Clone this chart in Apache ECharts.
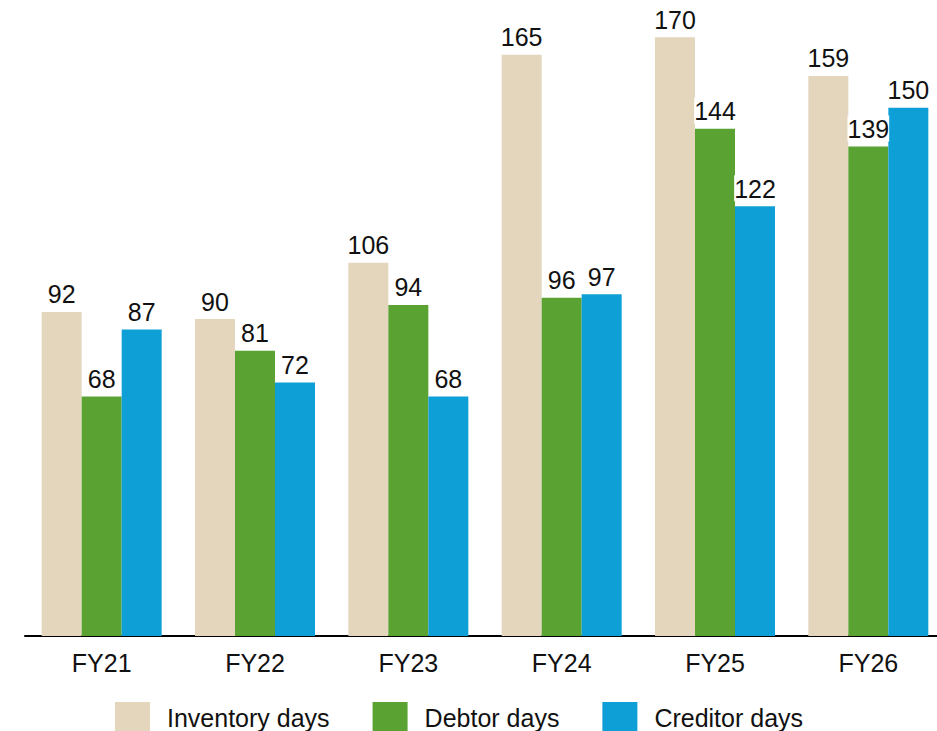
<!DOCTYPE html>
<html>
<head>
<meta charset="utf-8">
<script src="https://cdn.jsdelivr.net/npm/echarts@6/dist/echarts.min.js"></script>
<style>
  html, body { margin: 0; padding: 0; background: #fff; }
  #chart { width: 937px; height: 731px; }
</style>
</head>
<body>
<div id="chart"></div>
<script>
var years = ['FY21', 'FY22', 'FY23', 'FY24', 'FY25', 'FY26'];
var inventoryDays = [92, 90, 106, 165, 170, 159];
var debtorDays = [68, 81, 94, 96, 144, 139];
var creditorDays = [87, 72, 68, 97, 122, 150];

var font = '"Liberation Sans", Arial, sans-serif';

function barLabel() {
  return {
    show: true,
    position: 'top',
    distance: 5,
    color: '#111',
    fontSize: 25,
    fontFamily: font,
    backgroundColor: '#fff',
    padding: [1, 0, 0, 0]
  };
}

var chart = echarts.init(document.getElementById('chart'), null, { renderer: 'svg' });
chart.setOption({
  animation: false,
  grid: { left: 25, width: 920, top: 2, bottom: 95, outerBoundsMode: 'none' },
  legend: {
    top: 697,
    left: 110,
    itemWidth: 35,
    itemHeight: 32,
    itemGap: 43,
    icon: 'rect',
    textStyle: { color: '#111', fontSize: 25, fontFamily: font, padding: [0, 0, 0, 12] },
    data: ['Inventory days', 'Debtor days', 'Creditor days']
  },
  xAxis: {
    type: 'category',
    data: years,
    axisLine: { lineStyle: { color: '#000', width: 2 } },
    axisTick: { show: false },
    axisLabel: { color: '#111', fontSize: 25, fontFamily: font, margin: 14 }
  },
  yAxis: {
    type: 'value',
    min: 0,
    max: 180,
    show: false,
    splitLine: { show: false }
  },
  series: [
    {
      name: 'Inventory days',
      type: 'bar',
      barWidth: 40,
      barGap: '0%',
      itemStyle: { color: '#e3d6bc' },
      label: barLabel(),
      data: inventoryDays
    },
    {
      name: 'Debtor days',
      type: 'bar',
      barWidth: 40,
      barGap: '0%',
      itemStyle: { color: '#5aa332' },
      label: barLabel(),
      data: debtorDays
    },
    {
      name: 'Creditor days',
      type: 'bar',
      barWidth: 40,
      barGap: '0%',
      itemStyle: { color: '#0f9fd7' },
      label: barLabel(),
      data: creditorDays
    }
  ]
});
</script>
</body>
</html>
